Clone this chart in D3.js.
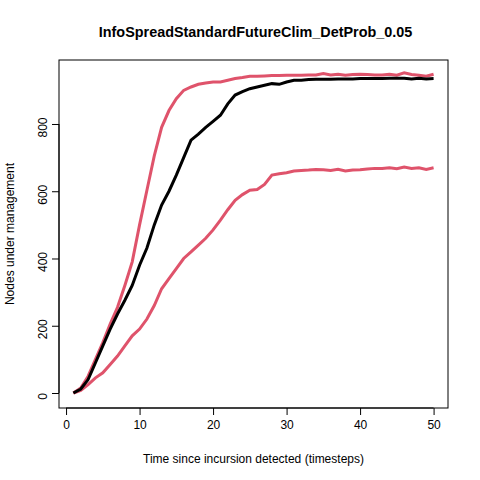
<!DOCTYPE html>
<html><head><meta charset="UTF-8">
<script src="https://cdn.jsdelivr.net/npm/d3@7"></script>
<style>body{margin:0;background:#fff;font-family:"Liberation Sans",Arial,sans-serif}</style>
</head><body><script>
const steps = d3.range(1, 51);
const meanVals = [0,12,40,90,140,190,235,276,320,380,431,500,559,600,648,700,752,770,790,808,826,860,886,896,905,910,915,920,918,925,930,930,932,933,933,933,934,934,934,935,935,935,935,936,936,936,934,936,934,935];
const upperVals = [0,15,50,100,150,205,255,320,390,500,603,705,790,840,875,900,910,918,922,925,925,930,935,938,942,942,943,944,944,945,945,945,946,946,950,946,948,945,947,948,947,946,946,948,945,952,947,945,942,948];
const lowerVals = [0,8,25,45,60,85,110,140,170,190,220,260,310,340,370,400,420,440,460,485,514,545,573,590,603,605,620,648,652,655,660,662,663,665,664,662,665,660,663,664,666,668,668,670,667,672,668,670,665,670];
const yTicks = [0,200,400,600,800];
const xTicks = [0,10,20,30,40,50];

const svg = d3.select('body').append('svg').attr('width',480).attr('height',480);
const L=59,R=448,T=60,B=408;
const x = d3.scaleLinear().domain([-0.96,51.96]).range([L,R]);
const y = d3.scaleLinear().domain([-44.6,990.3]).range([B,T]);

svg.append('rect').attr('x',L).attr('y',T).attr('width',R-L).attr('height',B-T)
  .attr('fill','none').attr('stroke','#000');

const xa = svg.append('g').attr('transform',`translate(0,${B})`)
  .call(d3.axisBottom(x).tickValues(xTicks).tickSize(7).tickPadding(5));
const ya = svg.append('g').attr('transform',`translate(${L},0)`)
  .call(d3.axisLeft(y).tickValues(yTicks).tickSize(7).tickPadding(5));
ya.selectAll('.tick text').attr('transform',function(){const t=d3.select(this);return `rotate(-90,${t.attr('x')},0)`}).attr('text-anchor','middle').attr('dy','0').attr('dx','-3');
[xa,ya].forEach(a=>{a.select('.domain').attr('d', a===xa?`M${x(0)},0H${x(50)}`:`M0,${y(0)}V${y(800)}`);
  a.selectAll('text').attr('font-size',12).attr('font-family','Liberation Sans,Arial');});

const line = d3.line().x((d,i)=>x(steps[i])).y(d=>y(d));
[[upperVals,'#df536b'],[lowerVals,'#df536b'],[meanVals,'#000']].forEach(([v,c])=>
  svg.append('path').datum(v).attr('d',line).attr('fill','none').attr('stroke',c).attr('stroke-width',3));

svg.append('text').attr('x',(L+R)/2+2).attr('y',37).attr('text-anchor','middle')
  .attr('font-weight','bold').attr('font-size',14.4).text('InfoSpreadStandardFutureClim_DetProb_0.05');
svg.append('text').attr('x',(L+R)/2).attr('y',463).attr('text-anchor','middle')
  .attr('font-size',12).text('Time since incursion detected (timesteps)');
svg.append('text').attr('transform',`translate(14,${(T+B)/2}) rotate(-90)`).attr('text-anchor','middle')
  .attr('font-size',12).text('Nodes under management');
</script></body></html>
